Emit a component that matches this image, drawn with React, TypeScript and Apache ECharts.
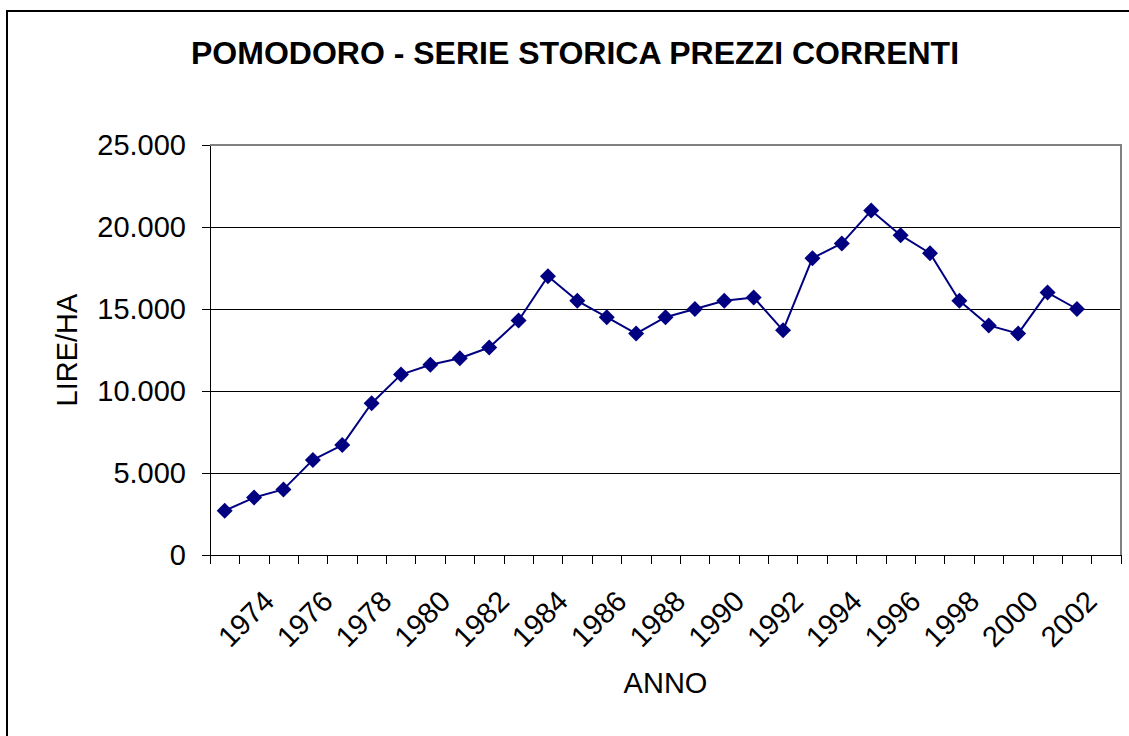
import React, { useEffect, useRef } from "react";
import * as echarts from "echarts";

const TITLE = "POMODORO - SERIE STORICA PREZZI CORRENTI";
const Y_NAME = "LIRE/HA";
const X_NAME = "ANNO";

const years = [
  "1973", "1974", "1975", "1976", "1977", "1978", "1979", "1980", "1981", "1982",
  "1983", "1984", "1985", "1986", "1987", "1988", "1989", "1990", "1991", "1992",
  "1993", "1994", "1995", "1996", "1997", "1998", "1999", "2000", "2001", "2002",
];

const prices = [
  2700, 3500, 4000, 5800, 6700, 9250, 11000, 11600, 12000, 12650,
  14300, 17000, 15500, 14500, 13500, 14500, 15000, 15500, 15700, 13700,
  18100, 19000, 21000, 19500, 18400, 15500, 14000, 13500, 16000, 15000,
];

const yMin = 0;
const yMax = 25000;
const yStep = 5000;

const FONT = "'Liberation Sans', Arial, Helvetica, sans-serif";

const fmt = (v: number) => String(v).replace(/\B(?=(\d{3})+(?!\d))/g, ".");

export default function App() {
  const ref = useRef<HTMLDivElement>(null);

  useEffect(() => {
    if (!ref.current) return;
    const chart = echarts.init(ref.current, undefined, { renderer: "svg" });
    const gl = 210, gt = 145, gw = 911, gh = 410;
    chart.setOption({
      animation: false,
      backgroundColor: "#ffffff",
      textStyle: { fontFamily: FONT },
      grid: {
        left: gl, top: gt, width: gw, height: gh,
        containLabel: false,
        outerBoundsMode: "none",
        show: false,
      },
      graphic: [
        {
          type: "rect",
          z: 0,
          shape: { x: 7, y: 11, width: 1300, height: 900 },
          style: { fill: "none", stroke: "#000", lineWidth: 2 },
        },
        {
          type: "text",
          x: 575,
          y: 53,
          style: {
            text: TITLE,
            fontFamily: FONT,
            fontWeight: "bold",
            fontSize: 32,
            fill: "#000",
            textAlign: "center",
            textVerticalAlign: "middle",
          },
        },
        {
          type: "polyline",
          z: 10,
          shape: { points: [[gl, gt], [gl + gw, gt], [gl + gw, gt + gh]] },
          style: { stroke: "#808080", lineWidth: 2, fill: "none" },
        },
      ],
      xAxis: [
        {
          type: "category",
          data: [...years, ""],
          boundaryGap: true,
          axisLine: { show: true, lineStyle: { color: "#000", width: 1 } },
          axisTick: { show: true, interval: 0, length: 9, lineStyle: { color: "#000", width: 1 } },
          axisLabel: { show: false },
          splitLine: { show: false },
          name: X_NAME,
          nameLocation: "middle",
          nameGap: 113,
          nameTextStyle: { fontFamily: FONT, fontSize: 29, color: "#000" },
        },
        {
          type: "category",
          data: ["", ...years, ""],
          boundaryGap: false,
          position: "bottom",
          offset: 0,
          axisLine: { show: false },
          axisTick: { show: false },
          splitLine: { show: false },
          axisLabel: {
            show: true,
            rotate: 45,
            margin: 41,
            interval: (i: number, v: string) => i % 2 === 0 && v !== "",
            fontFamily: FONT,
            fontSize: 29,
            color: "#000",
          },
        },
      ],
      yAxis: {
        type: "value",
        min: yMin,
        max: yMax,
        interval: yStep,
        axisLine: { show: true, lineStyle: { color: "#000", width: 1 } },
        axisTick: { show: true, length: 8, lineStyle: { color: "#000", width: 1 } },
        axisLabel: {
          margin: 24,
          fontFamily: FONT,
          fontSize: 29,
          color: "#000",
          formatter: (v: number) => fmt(v),
        },
        splitLine: { show: true, lineStyle: { color: "#000", width: 1 } },
        name: Y_NAME,
        nameLocation: "middle",
        nameGap: 129,
        nameTextStyle: { fontFamily: FONT, fontSize: 29, color: "#000" },
      },
      series: [
        {
          type: "line",
          xAxisIndex: 0,
          data: prices,
          symbol: "diamond",
          symbolSize: 16,
          lineStyle: { color: "#000080", width: 2 },
          itemStyle: { color: "#000080" },
          z: 5,
        },
      ],
    });
    return () => chart.dispose();
  }, []);

  return (
    <div
      ref={ref}
      style={{ position: "absolute", left: 0, top: 0, width: 1129, height: 736 }}
    />
  );
}
